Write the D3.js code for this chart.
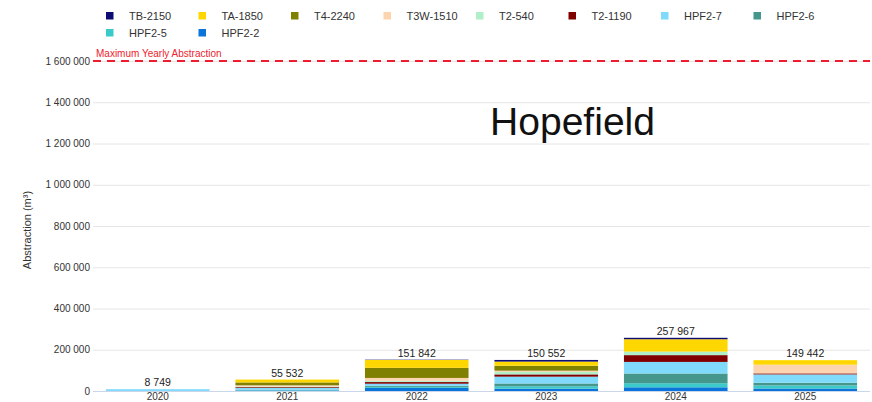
<!DOCTYPE html>
<html><head><meta charset="utf-8">
<script src="https://cdn.jsdelivr.net/npm/d3@7"></script>
<style>body{margin:0;background:#fff;}svg{display:block;font-family:"Liberation Sans",Arial,sans-serif;}</style>
</head><body>
<svg id="c" width="872" height="402"></svg>
<script>
const years = ["2020","2021","2022","2023","2024","2025"];
// stack order bottom -> top
const seriesNames = ["HPF2-2","HPF2-5","HPF2-6","HPF2-7","T2-1190","T2-540","T3W-1510","T4-2240","TA-1850","TB-2150"];
const seriesColors = ["#0a74da","#3cc9c9","#46978b","#80dafc","#800000","#b0f0c8","#fcd4b0","#808000","#ffd700","#0c0c72"];
const HPF2_2  = [0, 2532, 15000, 11000, 17967, 12000];
const HPF2_5  = [0, 2000, 5000, 12000, 20000, 15000];
const HPF2_6  = [0, 2000, 5000, 13552, 47000, 13000];
const HPF2_7  = [8749, 8000, 10342, 33000, 56000, 40442];
const T2_1190 = [0, 4000, 8000, 11000, 33000, 5000];
const T2_540  = [0, 3000, 6000, 12000, 17000, 0];
const T3W_1510= [0, 6000, 14000, 6000, 0, 42000];
const T4_2240 = [0, 14000, 49000, 24000, 0, 0];
const TA_1850 = [0, 14000, 38000, 20000, 60000, 22000];
const TB_2150 = [0, 0, 1500, 8000, 7000, 0];
const totals  = [8749, 55532, 151842, 150552, 257967, 149442];
const legendOrder = ["TB-2150","TA-1850","T4-2240","T3W-1510","T2-540","T2-1190","HPF2-7","HPF2-6","HPF2-5","HPF2-2"];
const yTicks = [0,200000,400000,600000,800000,1000000,1200000,1400000,1600000];
const maxAbstraction = 1600000;

const seriesValues = [HPF2_2,HPF2_5,HPF2_6,HPF2_7,T2_1190,T2_540,T3W_1510,T4_2240,TA_1850,TB_2150];
const table = years.map((yr,i)=>{const r={year:yr}; seriesNames.forEach((s,j)=>r[s]=seriesValues[j][i]); return r;});
const color = d3.scaleOrdinal().domain(seriesNames).range(seriesColors);

const svg = d3.select("#c");
const pL = 93, pR = 870, pT = 61, pB = 391;
const x = d3.scaleBand().domain(years).range([pL,pR]).paddingInner(0.2).paddingOuter(0.1);
const y = d3.scaleLinear().domain([0,1600000]).range([pB,pT]);
const fmt = v => d3.format(",")(v).replace(/,/g," ");

// grid
const yAxis = d3.axisLeft(y).tickValues(yTicks).tickSize(-(pR-pL)).tickFormat(fmt).tickPadding(3);
const gy = svg.append("g").attr("transform",`translate(${pL},0)`).call(yAxis);
gy.select(".domain").remove();
gy.selectAll(".tick line").attr("stroke","#e6e6e6").attr("stroke-width",1);
gy.selectAll(".tick text").attr("fill","#333").style("font-size","10px");

// x axis
const xAxis = d3.axisBottom(x).tickSize(0).tickPadding(1.5);
const gx = svg.append("g").attr("transform",`translate(0,${pB})`).call(xAxis);
gx.select(".domain").attr("stroke","#ccd6eb").attr("d",`M${pL},0.5H${pR}`);
gx.selectAll(".tick text").attr("fill","#333").style("font-size","10px");

// stacks
const stack = d3.stack().keys(seriesNames)(table);
svg.append("g").selectAll("g").data(stack).join("g").attr("fill",d=>color(d.key))
  .selectAll("rect").data(d=>d).join("rect")
  .attr("x",d=>x(d.data.year)).attr("width",x.bandwidth())
  .attr("y",d=>y(d[1])).attr("height",d=>Math.max(0,y(d[0])-y(d[1])));

// totals
svg.append("g").selectAll("text").data(years).join("text")
  .attr("x",d=>x(d)+x.bandwidth()/2).attr("y",(d,i)=>y(totals[i])-3)
  .attr("text-anchor","middle").attr("fill","#222").style("font-size","10.5px")
  .text((d,i)=>fmt(totals[i]));

// max line
svg.append("line").attr("x1",pL).attr("x2",pR).attr("y1",y(maxAbstraction)).attr("y2",y(maxAbstraction))
  .attr("stroke","#ee1c2e").attr("stroke-width",2).attr("stroke-dasharray","8,6");
svg.append("text").attr("x",pL+3).attr("y",y(maxAbstraction)-4).attr("fill","#ee1c2e").style("font-size","10px")
  .text("Maximum Yearly Abstraction");

// y title
svg.append("text").attr("transform",`translate(31,${(pT+pB)/2+4}) rotate(-90)`).attr("text-anchor","middle")
  .attr("fill","#333").style("font-size","11px").text("Abstraction (m³)");

// Hopefield
svg.append("text").attr("x",490).attr("y",135).attr("fill","#111").style("font-size","38px").style("font-weight","300")
  .attr("textLength",165).attr("lengthAdjust","spacingAndGlyphs").text("Hopefield");

// legend
const lg = svg.append("g").selectAll("g").data(legendOrder).join("g")
  .attr("transform",(d,i)=>`translate(${106 + (i%8)*92.5},${i<8?12:29})`);
lg.append("rect").attr("width",7.5).attr("height",7.5).attr("fill",d=>color(d));
lg.append("text").attr("x",23).attr("y",7.5).attr("fill","#333").style("font-size","11px").text(d=>d);
</script>
</body></html>
